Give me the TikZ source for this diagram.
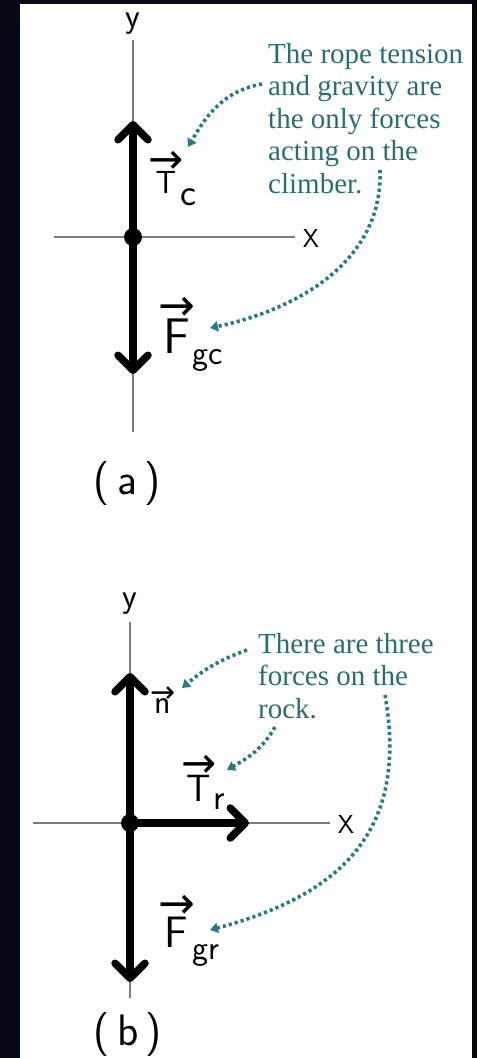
\documentclass[tikz,border=0pt]{standalone}
\usepackage{fontspec}
\setmainfont{Liberation Serif}
\newfontfamily\arrowfont{DejaVu Sans}
\usepackage{tikz}
\usetikzlibrary{arrows.meta, positioning, calc}
\definecolor{noteteal}{RGB}{44,110,112}
\definecolor{dotteal}{RGB}{42,122,130}
\definecolor{axisgray}{RGB}{125,125,125}
\definecolor{backdrop}{RGB}{6,9,20}
% letter with a small arrow over it: letter, arrow size, gap
\newcommand{\vecsym}[3]{\leavevmode\vbox{\offinterlineskip\halign{\hfil##\hfil\cr
  {\arrowfont\fontsize{#2}{#2}\selectfont →}\cr\noalign{\kern#3}#1\cr}}}
% handwritten subscript: size, drop, text
\newcommand{\subtext}[3]{\kern-3pt\raisebox{-#2}{\fontsize{#1}{#1}\selectfont #3}}
\tikzset{
  axis/.style={draw=axisgray, line width=1.5pt},
  vector/.style={line width=7.5pt, -{Straight Barb[length=15pt, width=30pt, round]}},
  dot/.style={circle, fill=black, inner sep=0pt, minimum size=18pt},
  pointer/.style={draw=dotteal, line width=3.6pt, dash pattern=on 3.2pt off 3pt,
    -{Triangle[length=8pt, width=10pt]}},
  note/.style={font=\fontsize{29}{32.5}\selectfont, text=noteteal, align=left,
    anchor=north west, inner sep=0pt},
  axislabel/.style={font=\sffamily\fontsize{26}{30}\selectfont, inner sep=0pt},
  ylabel/.style={font=\sffamily\fontsize{34}{40}\selectfont, inner sep=0pt},
  vlabel/.style={inner sep=0pt, anchor=base west},
  caption/.style={font=\sffamily\fontsize{44}{48}\selectfont, inner sep=0pt},
}

\begin{document}
\begin{tikzpicture}[x=1pt, y=1pt]
  \useasboundingbox (0,0) rectangle (477,-1058);
  % backdrop and page
  \fill[backdrop] (0,0) rectangle (477,-1058);
  \fill[white] (20,-4) rectangle (472,-1058);

  % (a) the climber
  \coordinate (oA) at (133,-237);
  \coordinate (yTopA) at (133,-40);
  \coordinate (yEndA) at (133,-432);
  \coordinate (xBegA) at (54,-237);
  \coordinate (xEndA) at (295,-237);
  \coordinate (upA) at (133,-121);
  \coordinate (downA) at (133,-374);
  \node[ylabel] (yA) at (133,-24) {y};
  \node[axislabel] (xA) at (311,-238) {X};
  \draw[axis] (yTopA) -- (yEndA);
  \draw[axis] (xBegA) -- (xEndA);
  \draw[vector] (oA) -- (upA);
  \draw[vector] (oA) -- (downA);
  \node[dot] (dotA) at (oA) {};
  \node[vlabel, font=\sffamily\fontsize{32}{34}\selectfont] (Tc) at (148,-193)
    {\vecsym{T}{42pt}{-3pt}\subtext{38pt}{12pt}{c}};
  \node[vlabel, font=\sffamily\fontsize{50}{52}\selectfont] (Fgc) at (158,-353)
    {\vecsym{F}{44pt}{-2pt}\subtext{34pt}{11pt}{gc}};
  \node[caption] (capA) at (127,-484) {(\,a\,)};

  \node[note] (noteA) at (268,-43) {The rope tension\\and gravity are\\the only forces\\acting on the\\climber.};
  \coordinate (fromA1) at (262,-84);
  \coordinate (toTc) at (188,-147);
  \coordinate (fromA2) at (380,-170);
  \coordinate (toFgc) at (210,-328);
  \draw[pointer] (fromA1) to[out=190, in=60] (toTc);
  \draw[pointer] (fromA2) to[out=-88, in=12] (toFgc);

  % (b) the rock
  \coordinate (oB) at (130,-823);
  \coordinate (yTopB) at (130,-622);
  \coordinate (yEndB) at (130,-998);
  \coordinate (xBegB) at (33,-823);
  \coordinate (xEndB) at (330,-823);
  \coordinate (upB) at (130,-673);
  \coordinate (downB) at (130,-982);
  \coordinate (rightB) at (249,-823);
  \node[ylabel] (yB) at (130,-604) {y};
  \node[axislabel] (xB) at (346,-824) {X};
  \draw[axis] (yTopB) -- (yEndB);
  \draw[axis] (xBegB) -- (xEndB);
  \draw[vector] (oB) -- (upB);
  \draw[vector] (oB) -- (downB);
  \draw[vector] (oB) -- (rightB);
  \node[dot] (dotB) at (oB) {};
  \node[vlabel, font=\sffamily\fontsize{34}{36}\selectfont] (nB) at (150,-713)
    {\vecsym{n}{30pt}{-4pt}};
  \node[vlabel, font=\sffamily\fontsize{38}{40}\selectfont] (Tr) at (181,-801)
    {\vecsym{T}{42pt}{-3pt}\subtext{36pt}{8pt}{r}};
  \node[vlabel, font=\sffamily\fontsize{44}{46}\selectfont] (Fgr) at (158,-947)
    {\vecsym{F}{44pt}{-2pt}\subtext{34pt}{12pt}{gr}};
  \node[caption] (capB) at (128,-1035) {(\,b\,)};

  \node[note] (noteB) at (258,-633) {There are three\\forces on the\\rock.};
  \coordinate (fromB1) at (247,-650);
  \coordinate (toN) at (182,-688);
  \coordinate (fromB2) at (275,-727);
  \coordinate (toTr) at (227,-770);
  \coordinate (fromB3) at (385,-695);
  \coordinate (toFgr) at (210,-930);
  \draw[pointer] (fromB1) to[out=200, in=40] (toN);
  \draw[pointer] (fromB2) to[out=-120, in=30] (toTr);
  \draw[pointer] (fromB3) to[out=-80, in=15, looseness=1.2] (toFgr);
\end{tikzpicture}
\end{document}
